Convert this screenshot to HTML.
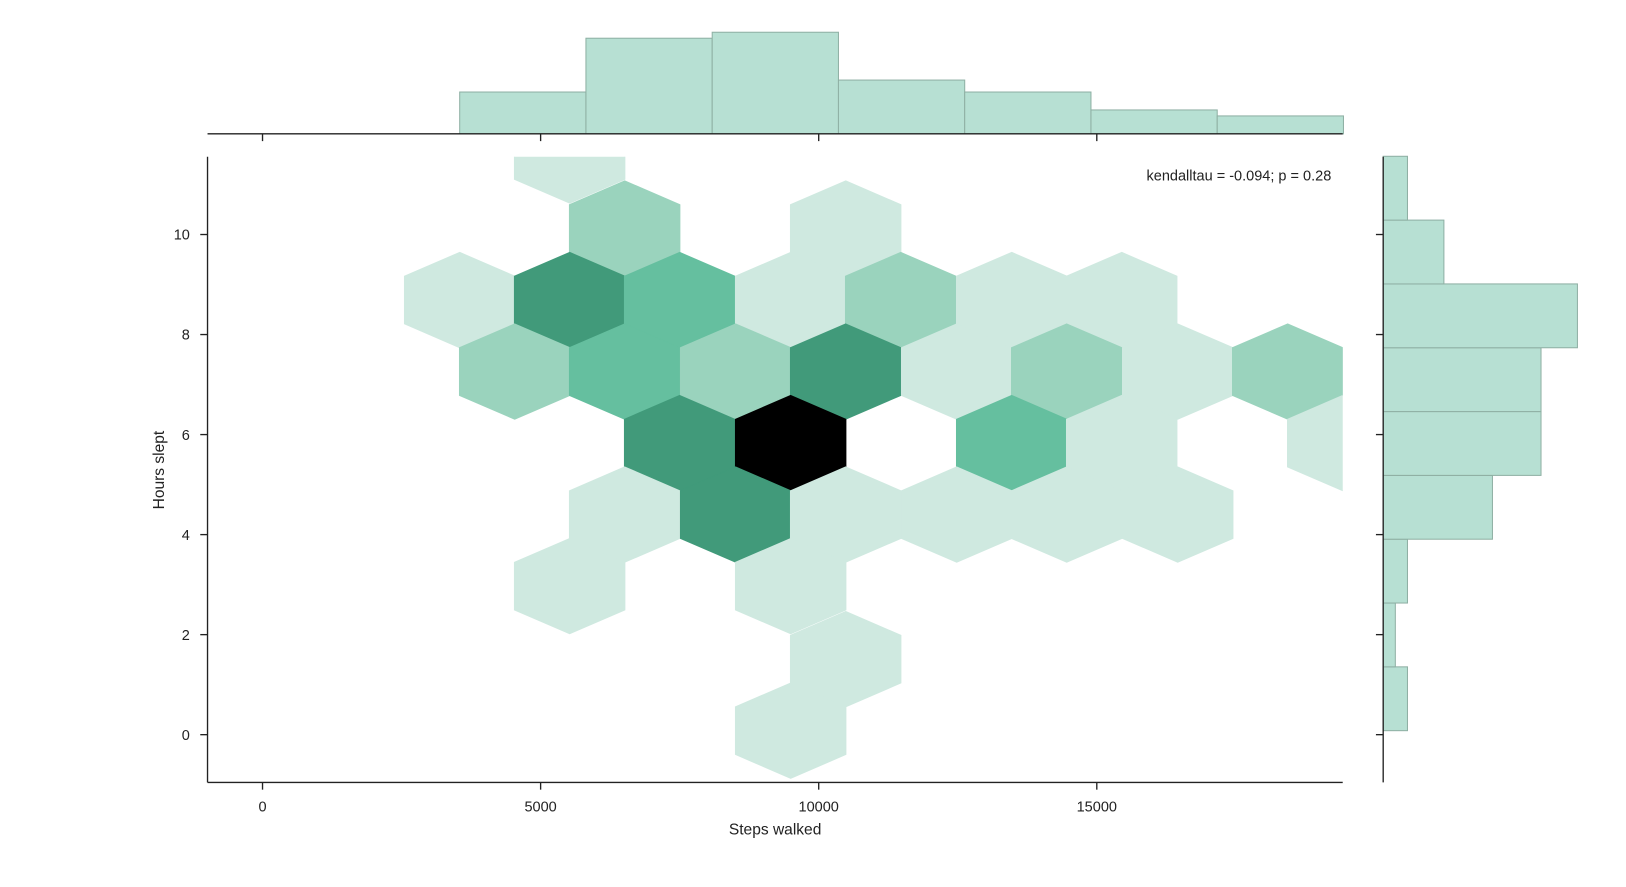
<!DOCTYPE html>
<html><head><meta charset="utf-8">
<style>
html,body{margin:0;padding:0;background:#fff;}
svg{display:block;font-family:"Liberation Sans",sans-serif;}
</style></head>
<body>
<svg id="chart" width="1626" height="887" viewBox="0 0 1567 854.8" preserveAspectRatio="none" xmlns="http://www.w3.org/2000/svg">
<defs><clipPath id="plotclip"><rect x="200" y="151" width="1094" height="603"/></clipPath></defs>
<g id="hexes" clip-path="url(#plotclip)"></g>
<g id="tophist"></g>
<g id="righthist"></g>
<g id="axes"></g>
<text x="1283" y="174" text-anchor="end" font-size="14" fill="#222">kendalltau = -0.094; p = 0.28</text>
<text x="747" y="804" text-anchor="middle" font-size="15" fill="#222">Steps walked</text>
<text x="158" y="453" text-anchor="middle" font-size="15" fill="#222" transform="rotate(-90 158 453)">Hours slept</text>
</svg>
<script>
// hexbin data: centers (steps, hours) and counts
const hexX = [5522, 6511,10485, 3545,5522,7500,9496,11474,13470,15448, 4534,6511,8507,10485,12481,14459,16455,18433, 7500,9496,13470,15448,19422, 6511,8507,10485,12481,14459,16455, 5522,9496, 10485, 9496];
const hexY = [11.58, 10.12,10.12, 8.69,8.69,8.69,8.69,8.69,8.69,8.69, 7.26,7.26,7.26,7.26,7.26,7.26,7.26,7.26, 5.83,5.83,5.83,5.83,5.83, 4.40,4.40,4.40,4.40,4.40,4.40, 2.97,2.97, 1.51, 0.08];
const hexCount = [1, 2,1, 1,4,3,1,2,1,1, 2,3,2,4,1,2,1,2, 4,6,3,1,1, 1,4,1,1,1,1, 1,1, 1, 1];
// marginal histograms
const topCounts = [7,16,17,9,7,4,3];
const topStart = 3545, topBinWidth = 2270;
const rightCounts = [2,1,2,9,13,13,16,5,2]; // from 0.08 hours upward
const rightStart = 0.08, rightBinWidth = 1.276;
const xTicks = [0,5000,10000,15000];
const yTicks = [0,2,4,6,8,10];

const NS="http://www.w3.org/2000/svg";
const xs = v => 253 + v*0.0536;
const ys = v => 708 - v*48.2;
function mk(tag, attrs, parent){const e=document.createElementNS(NS,tag);for(const k in attrs)e.setAttribute(k,attrs[k]);parent.appendChild(e);return e;}
const colors = {1:"#cfe9e0",2:"#9ad3bd",3:"#65bf9f",4:"#419a7a",5:"#1d5a45",6:"#000000"};
const hw = 53.3, r = 46;
const hg = document.getElementById('hexes');
for(let i=0;i<hexX.length;i++){
  const cx=xs(hexX[i]), cy=ys(hexY[i]);
  const pts=[[cx,cy-r],[cx+hw,cy-r/2],[cx+hw,cy+r/2],[cx,cy+r],[cx-hw,cy+r/2],[cx-hw,cy-r/2]].map(p=>p.join(',')).join(' ');
  const col=colors[Math.min(hexCount[i],6)];
  const p=mk('polygon',{points:pts,fill:col,stroke:col,"stroke-width":0.8},hg);
  
  
}
const th=document.getElementById('tophist');
const tk=5.76;
topCounts.forEach((c,i)=>{
  const x0=xs(topStart+i*topBinWidth), x1=xs(topStart+(i+1)*topBinWidth);
  const b=mk('rect',{x:x0,y:129-c*tk,width:x1-x0,height:c*tk,fill:"#b7e0d3",stroke:"#8fb0a4","stroke-width":1},th);
  
  
});
const rh=document.getElementById('righthist');
const rk=11.7;
rightCounts.forEach((c,i)=>{
  const y0=ys(rightStart+(i+1)*rightBinWidth), y1=ys(rightStart+i*rightBinWidth);
  const b=mk('rect',{x:1333,y:y0,width:c*rk,height:y1-y0,fill:"#b7e0d3",stroke:"#8fb0a4","stroke-width":1},rh);
  
  
});
const ax=document.getElementById('axes');
const st={stroke:"#222","stroke-width":1.3};
mk('line',Object.assign({x1:200,y1:151,x2:200,y2:754},st),ax);
mk('line',Object.assign({x1:200,y1:754,x2:1294,y2:754},st),ax);
mk('line',Object.assign({x1:200,y1:129,x2:1294,y2:129},st),ax);
mk('line',Object.assign({x1:1333,y1:151,x2:1333,y2:754},st),ax);
xTicks.forEach(v=>{
  const x=xs(v);
  mk('line',Object.assign({x1:x,y1:754,x2:x,y2:761},st),ax);
  mk('line',Object.assign({x1:x,y1:129,x2:x,y2:136},st),ax);
  const t=mk('text',{x:x,y:782,"text-anchor":"middle","font-size":14,fill:"#222"},ax);
  t.textContent=v;
  
  
});
yTicks.forEach(v=>{
  const y=ys(v);
  mk('line',Object.assign({x1:193,y1:y,x2:200,y2:y},st),ax);
  mk('line',Object.assign({x1:1326,y1:y,x2:1333,y2:y},st),ax);
  const t=mk('text',{x:183,y:y+5,"text-anchor":"end","font-size":14,fill:"#222"},ax);
  t.textContent=v;
  
  
});
</script>
</body></html>
